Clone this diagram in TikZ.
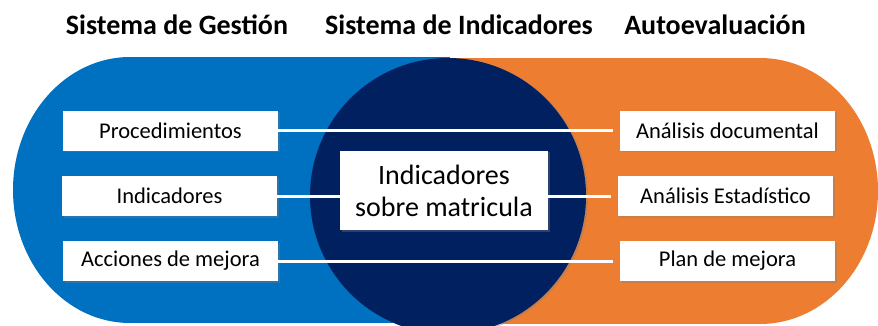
\documentclass[tikz,border=0pt]{standalone}
\usepackage{fontspec}
\setmainfont{Carlito}
\usetikzlibrary{shadows}
\definecolor{gblue}{HTML}{0070C0}
\definecolor{gnavy}{HTML}{002060}
\definecolor{gorange}{HTML}{ED7D31}

\begin{document}
\begin{tikzpicture}[x=1pt,y=-1pt,
	item/.style={fill=white,minimum width=215pt,minimum height=40pt,inner sep=0pt,
		font=\fontsize{22.5}{26}\selectfont,
		drop shadow={opacity=0.35,shadow xshift=1.5pt,shadow yshift=-1.5pt}},
	title/.style={font=\bfseries\fontsize{28}{32}\selectfont},
	link/.style={white,line width=3pt,shorten >=7pt}]
	\useasboundingbox (0,0) rectangle (878,326);
	\clip (0,0) rectangle (878,326);
	
	%titles
	\node[title] (tg) at (177,25) {Sistema de Gestión};
	\node[title] (ti) at (459,25) {Sistema de Indicadores};
	\node[title] (ta) at (715,25) {Autoevaluación};
	
	%background shapes
	\fill[gblue] (130,190) circle [x radius=117, y radius=133];
	\fill[gblue] (130,57) rectangle (450,323);
	\fill[gorange] (760,191) circle [x radius=118, y radius=133];
	\fill[gorange] (450,58) rectangle (760,324);
	\fill[gnavy,drop shadow={opacity=0.4,shadow xshift=2pt,shadow yshift=-1pt}] (448,196) circle (138);
	
	%boxes
	\node[item] (proc) at (170.5,131) {Procedimientos};
	\node[item] (ind) at (169.5,196) {Indicadores};
	\node[item] (acc) at (170.5,261) {Acciones de mejora};
	\node[item] (doc) at (727.5,131) {Análisis documental};
	\node[item] (est) at (725.5,196) {Análisis Estadístico};
	\node[item] (plan) at (727.5,261) {Plan de mejora};
	\node[item,minimum width=208pt,minimum height=79pt,align=center,
		font=\fontsize{28}{32}\selectfont] (mat) at (444,190.5) {Indicadores\\sobre matricula};
	
	%links
	\draw[link] (proc.east) -- (proc.east -| doc.west);
	\draw[link,shorten >=0pt] (ind.east) -- (ind.east -| mat.west);
	\draw[link] (mat.east |- est.west) -- (est.west);
	\draw[link] (acc.east) -- (acc.east -| plan.west);
\end{tikzpicture}
\end{document}
